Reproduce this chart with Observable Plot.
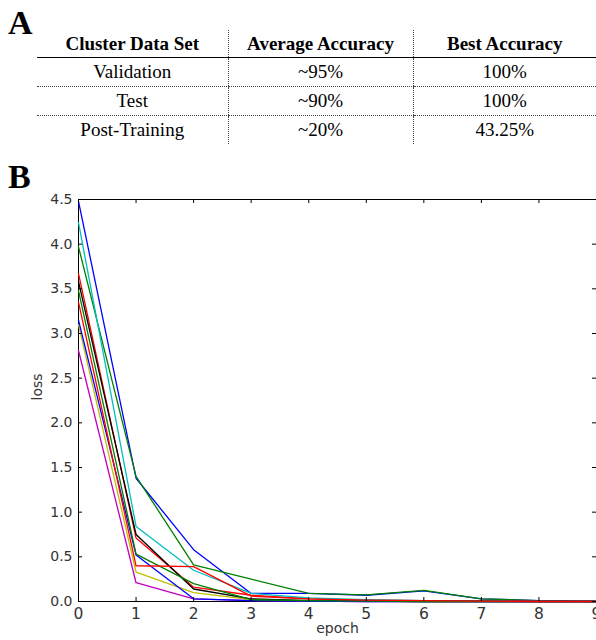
<!DOCTYPE html>
<html>
<head>
<meta charset="utf-8">
<script src="https://cdn.jsdelivr.net/npm/d3@7"></script>
<script src="https://cdn.jsdelivr.net/npm/@observablehq/plot@0.6"></script>
<style>
  html, body { margin: 0; padding: 0; background: #fff; }
  #wrap { position: relative; width: 596px; height: 640px; overflow: hidden; background: #fff; }
  .panel { position: absolute; font-family: "Liberation Serif", "Times New Roman", serif; font-weight: bold; font-size: 34px; line-height: 34px; color: #000; z-index: 2; }
  #tbl { position: absolute; left: 37px; top: 30px; border-collapse: collapse; font-family: "Liberation Serif", "Times New Roman", serif; font-size: 19px; color: #000; table-layout: fixed; }
  #tbl th, #tbl td { padding: 0; text-align: center; white-space: nowrap; }
  #tbl th { height: 27px; font-weight: bold; border-bottom: 1.5px solid #000; }
  #tbl td { height: 28px; }
  #tbl tr.dot td { border-bottom: 1px dotted #444; }
  #tbl .vl { border-left: 1px dotted #444; }
  #chart { position: absolute; left: 0; top: 160px; z-index: 1; }
</style>
</head>
<body>
<div id="wrap">
  <div class="panel" style="left:8px; top:6px;">A</div>
  <table id="tbl"></table>
  <div class="panel" style="left:8px; top:160px;">B</div>
  <div id="chart"></div>
</div>
<script>
// ---- Table data (panel A) ----
const tableHeaders = ["Cluster Data Set", "Average Accuracy", "Best Accuracy"];
const rowNames = ["Validation", "Test", "Post-Training"];
const avgAccuracy = ["~95%", "~90%", "~20%"];
const bestAccuracy = ["100%", "100%", "43.25%"];

// ---- Loss curves (panel B) ----
const epochs = [0, 1, 2, 3, 4, 5, 6, 7, 8, 9];
const run0 = [4.48, 1.38, 0.58, 0.09, 0.09, 0.07, 0.12, 0.03, 0.01, 0.00];
const run1 = [3.97, 1.40, 0.41, 0.25, 0.09, 0.075, 0.125, 0.03, 0.01, 0.00];
const run2 = [3.67, 0.71, 0.16, 0.07, 0.03, 0.015, 0.01, 0.005, 0.00, 0.00];
const run3 = [4.24, 0.84, 0.35, 0.09, 0.04, 0.02, 0.01, 0.005, 0.00, 0.00];
const run4 = [2.81, 0.21, 0.03, 0.01, 0.005, 0.00, 0.00, 0.00, 0.00, 0.00];
const run5 = [3.10, 0.33, 0.10, 0.02, 0.01, 0.005, 0.00, 0.00, 0.00, 0.00];
const run6 = [3.58, 0.75, 0.14, 0.03, 0.01, 0.005, 0.00, 0.00, 0.00, 0.00];
const run7 = [3.15, 0.52, 0.03, 0.01, 0.005, 0.00, 0.00, 0.00, 0.00, 0.00];
const run8 = [3.48, 0.53, 0.20, 0.02, 0.01, 0.005, 0.00, 0.00, 0.00, 0.00];
const run9 = [3.35, 0.40, 0.39, 0.06, 0.03, 0.015, 0.01, 0.005, 0.00, 0.00];
const runColors = ["#0000ff", "#008000", "#ff0000", "#00bfbf", "#bf00bf", "#bfbf00", "#000000", "#0000ff", "#008000", "#ff0000"];
const xTicks = [0, 1, 2, 3, 4, 5, 6, 7, 8, 9];
const yTicks = [0, 0.5, 1, 1.5, 2, 2.5, 3, 3.5, 4, 4.5];

// build table
const tbl = document.getElementById("tbl");
const colWidths = [191, 185, 183];
const cg = document.createElement("colgroup");
colWidths.forEach(w => { const c = document.createElement("col"); c.style.width = w + "px"; cg.appendChild(c); });
tbl.appendChild(cg);
const hr = document.createElement("tr");
tableHeaders.forEach((h, i) => { const th = document.createElement("th"); th.textContent = h; if (i > 0) th.className = "vl"; hr.appendChild(th); });
tbl.appendChild(hr);
rowNames.forEach((r, k) => {
  const tr = document.createElement("tr");
  if (k < rowNames.length - 1) tr.className = "dot";
  [r, avgAccuracy[k], bestAccuracy[k]].forEach((v, i) => {
    const td = document.createElement("td"); td.textContent = v; if (i > 0) td.className = "vl"; tr.appendChild(td);
  });
  tbl.appendChild(tr);
});

// build chart
const runs = [run0, run1, run2, run3, run4, run5, run6, run7, run8, run9];
const data = runs.flatMap((r, i) => r.map((v, j) => ({run: i, epoch: epochs[j], loss: v, color: runColors[i]})));
const W = 596, H = 480, mT = 39, mB = 39, mL = 78, mR = 0;
const innerH = H - mT - mB, innerW = W - mL - mR;
const tk = 4;

const chart = Plot.plot({
  width: W, height: H,
  marginTop: mT, marginBottom: mB, marginLeft: mL, marginRight: mR,
  x: {domain: [0, 9]},
  y: {domain: [0, 4.5]},
  color: {type: "identity"},
  style: {fontFamily: "'DejaVu Sans', sans-serif", fontSize: "13px", color: "#333", background: "transparent"},
  marks: [
    Plot.frame({stroke: "#000", strokeWidth: 1}),
    Plot.line(data, {x: "epoch", y: "loss", z: "run", stroke: "color", strokeWidth: 1.3}),
    Plot.tickX(xTicks, {x: d => d, stroke: "#000", insetTop: innerH - tk}),
    Plot.tickX(xTicks, {x: d => d, stroke: "#000", insetBottom: innerH - tk}),
    Plot.tickY(yTicks, {y: d => d, stroke: "#000", insetRight: innerW - tk}),
    Plot.tickY(yTicks, {y: d => d, stroke: "#000", insetLeft: innerW - tk}),
    Plot.axisX(xTicks, {tickSize: 0, tickPadding: 6, label: null, fontSize: 15.5}),
    Plot.axisY(yTicks, {tickSize: 0, tickPadding: 6, tickFormat: ".1f", label: null, fontSize: 14}),
    Plot.text(["epoch"], {frameAnchor: "bottom", dy: 31, text: d => d, fontSize: 14}),
    Plot.text(["loss"], {frameAnchor: "left", dx: -41, rotate: -90, text: d => d, fontSize: 14})
  ]
});
document.getElementById("chart").appendChild(chart);
</script>
</body>
</html>
